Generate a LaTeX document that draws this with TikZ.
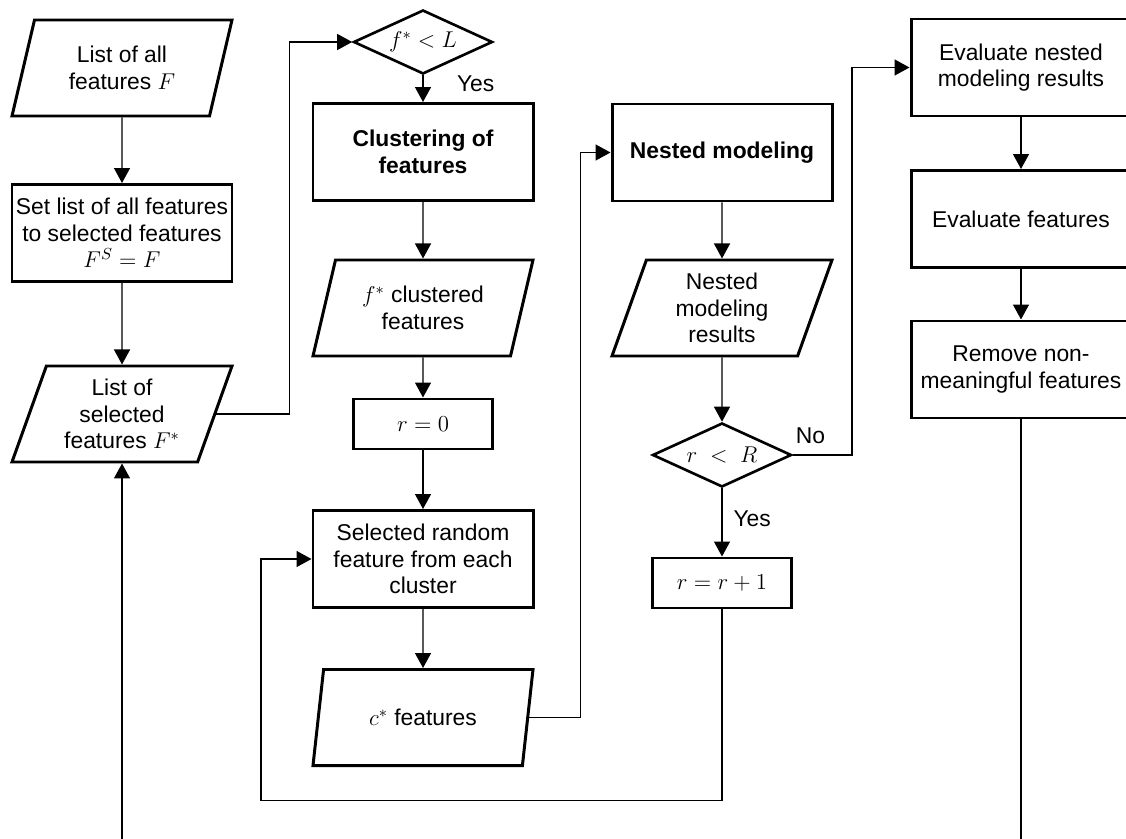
\RequirePackage{fix-cm}
\documentclass[tikz,border=0pt]{standalone}
\usepackage{fontspec}
\setmainfont{Liberation Sans}
\usetikzlibrary{arrows.meta, shapes.geometric}

\newcommand{\flowfont}{\fontsize{13}{15.2}\selectfont}

\begin{document}
\begin{tikzpicture}[
    font=\flowfont,
    process/.style={rectangle, draw, line width=1.7pt, minimum width=4.4cm, minimum height=1.94cm, align=center, inner sep=2pt},
    small box/.style={process, minimum width=2.78cm, minimum height=1cm},
    data/.style={trapezium, trapezium left angle=66, trapezium right angle=114, trapezium stretches body, draw, line width=1.7pt, minimum width=4.4cm, minimum height=1.92cm, align=center, inner sep=2pt},
    decision/.style={diamond, draw, line width=1.5pt, aspect=2.17, minimum width=2.78cm, minimum height=1.28cm, inner sep=1pt},
    bold/.style={font=\flowfont\bfseries},
    flow/.style={line width=0.8pt, -{Triangle[length=0.3cm, width=0.32cm]}}
]
    \useasboundingbox (0,0) rectangle (22.52,-16.78);
    \clip (0,0) rectangle (22.52,-16.78);

    % Nodes
    \node[data] (allF) at (2.44,-1.36) {List of all\\features $F$};
    \node[process] (setFS) at (2.44,-4.66) {Set list of all features\\to selected features\\$F^{S}=F$};
    \node[data] (selF) at (2.44,-8.28) {List of\\selected\\features $F^{*}$};

    \node[decision] (condL) at (8.46,-0.84) {$f^{*}<L$};
    \node[process, bold] (clust) at (8.46,-3.04) {Clustering of\\features};
    \node[data] (fclust) at (8.46,-6.16) {$f^{*}$ clustered\\features};
    \node[small box] (rzero) at (8.46,-8.48) {$r=0$};
    \node[process] (randsel) at (8.46,-11.18) {Selected random\\feature from each\\cluster};
    \node[data] (cfeat) at (8.46,-14.35) {$c^{*}$ features};

    \node[process, bold] (nested) at (14.44,-3.05) {Nested modeling};
    \node[data] (nestres) at (14.44,-6.16) {Nested\\modeling\\results};
    \node[decision] (condR) at (14.44,-9.1) {$r\ <\ R$};
    \node[small box] (rinc) at (14.44,-11.66) {$r=r+1$};

    \node[process] (evalnest) at (20.42,-1.35) {Evaluate nested\\modeling results};
    \node[process] (evalfeat) at (20.42,-4.38) {Evaluate features};
    \node[process] (remove) at (20.42,-7.39) {Remove non-\\meaningful features};

    % Edges
    \draw[flow] (allF) -- (setFS);
    \draw[flow] (setFS) -- (selF);
    \draw[flow] (selF.east) -- ++(1.46,0) |- (condL.west);
    \draw[flow] (condL) -- node[pos=0.3, right, xshift=0.55cm] (yesL) {Yes} (clust);
    \draw[flow] (clust) -- (fclust);
    \draw[flow] (fclust) -- (rzero);
    \draw[flow] (rzero) -- (randsel);
    \draw[flow] (randsel) -- (cfeat);
    \draw[flow] (cfeat.east) -- ++(1.02,0) |- (nested.west);
    \draw[flow] (nested) -- (nestres);
    \draw[flow] (nestres) -- (condR);
    \draw[flow] (condR) -- node[pos=0.45, right, xshift=0.1cm] (yesR) {Yes} (rinc);
    \draw[flow] (condR.east) -- node[pos=0.3, above, yshift=0.1cm] (noR) {No} ++(1.18,0) |- (evalnest.west);
    \draw[flow] (rinc.south) -- ++(0,-3.82) -| ([xshift=-1.01cm]randsel.west) -- (randsel.west);
    \draw[flow] (evalnest) -- (evalfeat);
    \draw[flow] (evalfeat) -- (remove);
    \draw[flow] (remove.south) -- ++(0,-9.5) -| (selF.south);
\end{tikzpicture}
\end{document}
